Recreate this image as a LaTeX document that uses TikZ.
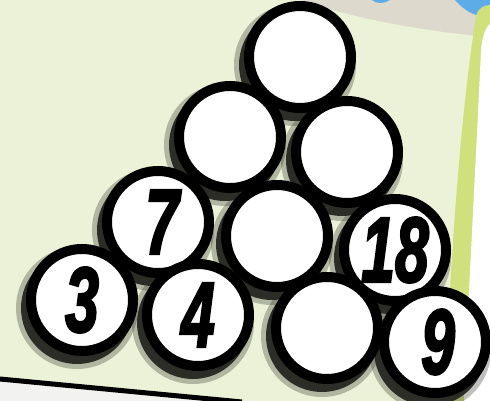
\documentclass[tikz,border=0pt]{standalone}
\usepackage{fontspec}
\newfontfamily\numfont{Liberation Sans}[BoldItalicFeatures={FakeBold=3}]
\definecolor{Cpaper}{HTML}{EBF2D7}
\definecolor{Cleafgreen}{HTML}{CFE07C}
\definecolor{Cskyblue}{HTML}{5DACE8}
\definecolor{Cband}{HTML}{DDDACD}
\definecolor{Cshade}{HTML}{2C2D26}
\definecolor{Cnote}{HTML}{F2F2F0}
\tikzset{
  ball/.style={circle,draw=black,line width=10pt,fill=white,minimum size=102pt,inner sep=0pt,
    font=\numfont\bfseries\itshape\fontsize{92}{92}\selectfont},
}
\newcommand{\ballnum}[1]{\scalebox{0.66}[1]{#1}}
\begin{document}
\begin{tikzpicture}[x=1pt,y=-1pt]
		\useasboundingbox (0,0) rectangle (490,401);
		\clip (0,0) rectangle (490,401);
		\fill[Cpaper] (0,0) rectangle (490,401);
		% top edge
		\fill[Cband] (300,0) .. controls (360,20) and (420,30) .. (478,36) -- (490,36) -- (490,0) -- cycle;
		\fill[Cskyblue] (455,0) .. controls (462,8) and (470,14) .. (480,16) -- (490,14) -- (490,0) -- cycle;
		\fill[Cskyblue] (372,0) .. controls (376,4) and (384,4) .. (390,0) -- cycle;
		% right page
		\fill[Cleafgreen] (476,16) .. controls (478,8) and (484,5) .. (490,5) -- (490,401) -- (445,401)
		.. controls (450,260) and (460,120) .. (476,16) -- cycle;
		\fill[white] (481,50) .. controls (474,200) and (468,300) .. (464,401) -- (490,401) -- (490,24)
		.. controls (485,28) and (482,38) .. (481,50) -- cycle;
		% bottom sheet
		\fill[Cnote] (0,381) -- (242,403) -- (0,403) -- cycle;
		\draw[line width=5pt] (0,379) -- (242,402);
		% shadows
		\foreach \x/\y in {300/57,230/137,347/152,158/222,277/236,395/250,82/300,198/315,327/328,435/342}{
			\fill[Cshade,opacity=0.3] (\x-5,\y+8) circle (61pt);
			\fill[Cshade] (\x-5,\y+8) circle (56pt);
		}
		% balls
		\node[ball] (top) at (300,57) {};
		\node[ball] (midL) at (230,137) {};
		\node[ball] (midR) at (347,152) {};
		\node[ball] (seven) at (158,222) {\hspace{8pt}\ballnum{7}};
		\node[ball] (centre) at (277,236) {};
		\node[ball] (eighteen) at (395,250) {\ballnum{18}};
		\node[ball] (three) at (82,300) {\ballnum{3}};
		\node[ball] (four) at (198,315) {\ballnum{4}};
		\node[ball] (low) at (327,328) {};
		\node[ball] (nine) at (435,342) {\hspace{6pt}\ballnum{9}};
	\end{tikzpicture}
\end{document}
